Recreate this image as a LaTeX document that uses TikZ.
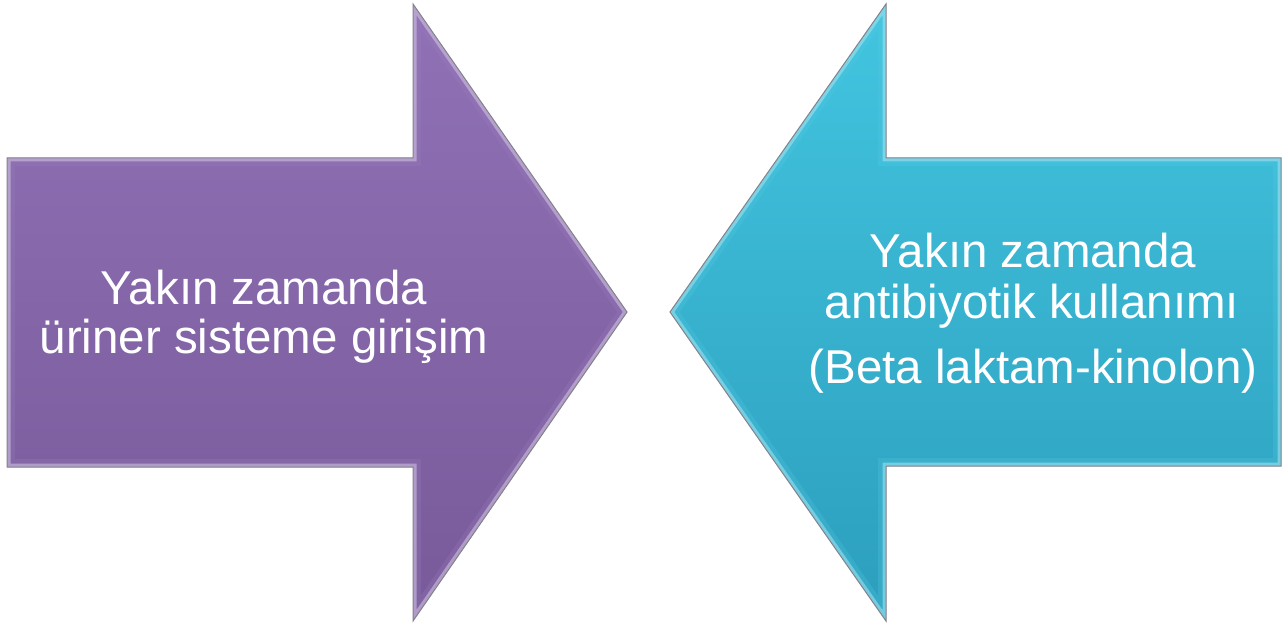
\documentclass[tikz,border=0pt]{standalone}
\usepackage{fontspec}
\setmainfont{Liberation Sans}
\definecolor{purptop}{RGB}{144,113,182}
\definecolor{purpbot}{RGB}{120,90,154}
\definecolor{cyantop}{RGB}{66,197,224}
\definecolor{cyanbot}{RGB}{44,158,189}
\definecolor{edgegray}{RGB}{130,130,140}
\tikzset{
  arrowtext/.style={text=white, inner sep=0pt, anchor=base, font=\fontsize{47.5}{48}\selectfont},
}
\begin{document}
\begin{tikzpicture}[x=1pt,y=-1pt]
\useasboundingbox (0,0) rectangle (1282,628);
\fill[white] (0,0) rectangle (1282,628);
% left purple arrow
\def\leftarrowpath{(7,158) -- (413,158) -- (413,4) -- (627,312) -- (413,621) -- (413,467) -- (7,467) -- cycle}
\shade[top color=purptop, bottom color=purpbot] \leftarrowpath;
\begin{scope}
  \clip \leftarrowpath;
  \draw[white!80!purptop, line width=7pt, opacity=0.55] \leftarrowpath;
  \draw[purptop!90!white, line width=16pt, opacity=0.25] \leftarrowpath;
\end{scope}
\draw[edgegray, line width=1pt] \leftarrowpath;
% right cyan arrow
\def\rightarrowpath{(1281,158) -- (886,158) -- (886,4) -- (670,312) -- (886,621) -- (886,466) -- (1281,466) -- cycle}
\shade[top color=cyantop, bottom color=cyanbot] \rightarrowpath;
\begin{scope}
  \clip \rightarrowpath;
  \draw[white!70!cyantop, line width=7pt, opacity=0.55] \rightarrowpath;
  \draw[cyantop!90!white, line width=16pt, opacity=0.25] \rightarrowpath;
\end{scope}
\draw[edgegray, line width=1pt] \rightarrowpath;
% texts
\node[arrowtext] (l1) at (264,305) {Yakın zamanda};
\node[arrowtext] (l2) at (264,353) {üriner sisteme girişim};
\node[arrowtext] (r1) at (1033,268) {Yakın zamanda};
\node[arrowtext] (r2) at (1032,318) {antibiyotik kullanımı};
\node[arrowtext] (r3) at (1033,383) {(Beta laktam-kinolon)};
\end{tikzpicture}
\end{document}
